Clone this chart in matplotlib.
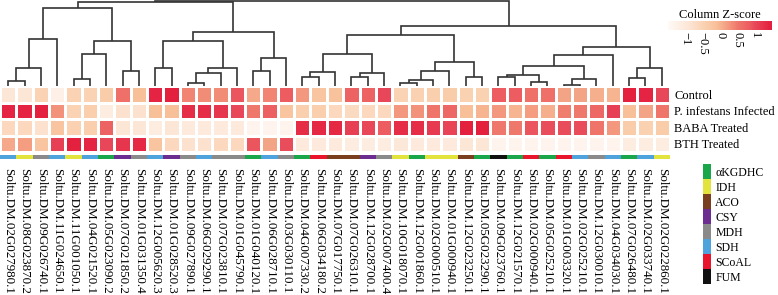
import numpy as np
import matplotlib
matplotlib.use("Agg")
import matplotlib.pyplot as plt
from matplotlib.colors import LinearSegmentedColormap, ListedColormap

plt.rcParams['font.family'] = ['Liberation Serif', 'DejaVu Serif']

genes = ["Soltu.DM.02G027980.1", "Soltu.DM.08G023870.2", "Soltu.DM.09G026740.1", "Soltu.DM.11G024650.1",
         "Soltu.DM.11G001050.1", "Soltu.DM.04G021520.1", "Soltu.DM.05G023090.2", "Soltu.DM.07G021850.2",
         "Soltu.DM.01G031350.4", "Soltu.DM.12G005620.3", "Soltu.DM.01G028520.3", "Soltu.DM.09G027890.1",
         "Soltu.DM.06G029290.1", "Soltu.DM.07G023810.1", "Soltu.DM.01G045790.1", "Soltu.DM.01G040120.1",
         "Soltu.DM.06G028710.1", "Soltu.DM.03G030110.1", "Soltu.DM.04G007330.2", "Soltu.DM.06G034180.2",
         "Soltu.DM.07G017750.1", "Soltu.DM.07G026310.1", "Soltu.DM.12G028700.1", "Soltu.DM.02G007400.4",
         "Soltu.DM.10G018070.1", "Soltu.DM.12G001860.1", "Soltu.DM.02G000510.1", "Soltu.DM.01G000940.1",
         "Soltu.DM.12G023250.1", "Soltu.DM.05G023290.1", "Soltu.DM.09G023760.1", "Soltu.DM.12G021570.1",
         "Soltu.DM.02G000940.1", "Soltu.DM.05G025210.1", "Soltu.DM.01G003320.1", "Soltu.DM.02G025210.1",
         "Soltu.DM.12G030010.1", "Soltu.DM.04G034030.1", "Soltu.DM.07G026480.1", "Soltu.DM.02G033740.1",
         "Soltu.DM.02G022860.1"]

conditions = ["Control", "P. infestans Infected", "BABA Treated", "BTH Treated"]

control = [-0.9, -0.9, -0.5, -1.2, -0.5, -0.5, -0.35, 0.6, -0.1, 1.4, 1.45, 0.4, 0.35, 0.35, 0.9,
           0.1, 0.4, 0.85, 0.25, -0.2, -0.15, 0.75, 0.75, 1.0, -0.5, -0.45, -0.4, -0.35, -0.45, -0.45,
           0.85, 0.85, 0.6, 0.6, 0.15, 0.15, 0.05, 0.0, 1.45, 1.4, 1.0]
infected = [1.4, 1.4, 1.45, 0.3, -0.5, -0.4, -1.1, -0.8, -0.8, -0.1, -0.1, 1.3, 1.3, 1.2, 1.0,
            0.5, 0.8, -0.2, -0.4, -0.4, -0.6, -0.65, -0.6, -0.6, 0.25, 0.3, 0.55, 0.7, -0.1, 0.0,
            0.25, 0.0, 0.2, 0.05, 0.45, 0.5, 0.7, 1.1, -0.1, 0.15, 0.55]
baba = [-0.6, -0.6, -0.8, -0.2, -0.45, -0.4, 0.75, -0.9, -0.9, -1.1, -0.9, -1.0, -1.0, -1.0, -1.0,
        -1.3, -1.3, -1.3, 1.3, 1.35, 1.35, 1.1, 1.0, 0.85, 1.3, 1.3, 1.15, 1.05, 1.45, 1.45,
        0.5, 0.5, 0.9, 0.95, 0.95, 0.95, 0.55, 0.25, -0.35, -0.45, -0.35]
bth = [0.1, 0.2, -0.2, 1.1, 1.45, 1.4, 1.0, 1.2, 1.35, -0.2, -0.6, -0.8, -0.8, -0.6, -0.6,
       0.9, 0.15, 0.95, -1.0, -1.0, -1.0, -1.1, -1.1, -1.1, -0.95, -1.0, -1.0, -1.0, -0.9, -0.9,
       -1.3, -1.3, -1.3, -1.3, -1.3, -1.3, -1.3, -1.3, -1.1, -1.1, -1.1]

families = ["SDH", "IDH", "MDH", "SDH", "IDH", "SDH", "αKGDHC", "CSY", "MDH", "SDH", "CSY", "MDH",
            "SDH", "MDH", "MDH", "αKGDHC", "SDH", "MDH", "αKGDHC", "SCoAL", "ACO", "ACO", "CSY", "MDH",
            "IDH", "αKGDHC", "IDH", "IDH", "ACO", "αKGDHC", "FUM", "αKGDHC", "SCoAL", "αKGDHC", "SCoAL",
            "SDH", "MDH", "SDH", "αKGDHC", "SDH", "IDH"]
family_names = ["αKGDHC", "IDH", "ACO", "CSY", "MDH", "SDH", "SCoAL", "FUM"]
family_colors = ["#1aa64a", "#e2e33c", "#7a3f1f", "#6b2d8f", "#8a8a8a", "#4ea3dc", "#e8152d", "#111111"]

# column dendrogram: (left, right, height), leaves are column indices
tree_a = (((0, 1, 5), 2, 18), 3, 47)
tree_b = (((4, 5, 7), 6, 32), (7, 8, 15), 45)
tree_c1 = ((9, 10, 18), (((11, 12, 3), 13, 13), 14, 18), 45)
tree_c = (tree_c1, ((15, 16, 15), 17, 28), 54)
tree_d1 = (((18, 19, 9), 20, 14), ((21, 22, 9), 23, 13), 32)
tree_d2 = ((((24, 25, 3), 26, 6), 27, 15), (28, 29, 9), 24)
tree_e1 = ((30, 31, 9), (32, 33, 4), 11)
tree_e2 = (tree_e1, ((34, 35, 1), 36, 7), 20)
tree_e = ((tree_e2, 37, 31), ((38, 39, 8), 40, 18), 39)
tree = (((tree_a, tree_b, 78), tree_c, 84.3), ((tree_d1, tree_d2, 51), tree_e, 60), 85.7)

W, H = 778, 295
fig = plt.figure(figsize=(W / 100, H / 100), dpi=100)


def box(x0, y0, x1, y1):
    return [x0 / W, 1 - y1 / H, (x1 - x0) / W, (y1 - y0) / H]


ax_dend = fig.add_axes(box(0, 0, 670, 86))
ax_heat = fig.add_axes(box(0, 86, 670, 152))
ax_strip = fig.add_axes(box(0, 154.5, 670, 158.5))
ax_cbar = fig.add_axes(box(667.5, 20.5, 772.5, 29.5))
ax_leg = fig.add_axes(box(703, 164, 711, 284))


def draw(node):
    if isinstance(node, int):
        return node + 0.5, 0
    xl, hl = draw(node[0])
    xr, hr = draw(node[1])
    h = node[2]
    ax_dend.plot([xl, xl, xr, xr], [hl, h, h, hr], color="#333333", lw=1.2,
                 solid_capstyle="butt", solid_joinstyle="miter")
    return (xl + xr) / 2, h


draw(tree)
ax_dend.set_xlim(0, len(genes))
ax_dend.set_ylim(0, 86.5)
ax_dend.axis("off")

zvals = [-1.5, -0.9, -0.45, -0.1, 0.25, 0.5, 0.85, 1.0, 1.45, 1.5]
zcols = ["#fffaf8", "#fce6d6", "#fad1b1", "#f8c099", "#f3987e", "#ef786c", "#ec5c60", "#e8485a",
         "#e4203f", "#e31b3e"]
cmap = LinearSegmentedColormap.from_list("z", [((v + 1.5) / 3, c) for v, c in zip(zvals, zcols)])

data = np.array([control, infected, baba, bth])
mesh = ax_heat.pcolormesh(data, cmap=cmap, vmin=-1.5, vmax=1.5, edgecolors="white", linewidth=1)
ax_heat.set_xlim(0, len(genes))
ax_heat.set_ylim(4, 0)
ax_heat.yaxis.tick_right()
ax_heat.set_yticks(np.arange(4) + 0.5, conditions, fontsize=9)
ax_heat.set_xticks([])
ax_heat.tick_params(length=0, pad=3)
for s in ax_heat.spines.values():
    s.set_visible(False)

fam_cmap = ListedColormap(family_colors)
fam_idx = [family_names.index(f) for f in families]
ax_strip.pcolormesh(np.array([fam_idx]), cmap=fam_cmap, vmin=-0.5, vmax=7.5)
ax_strip.set_xlim(0, len(genes))
ax_strip.set_xticks(np.arange(len(genes)) + 0.5, genes, rotation=270, fontsize=9.4)
ax_strip.set_yticks([])
ax_strip.tick_params(length=0, pad=6.5)
for s in ax_strip.spines.values():
    s.set_visible(False)

ax_leg.pcolormesh(np.arange(8).reshape(-1, 1), cmap=fam_cmap, vmin=-0.5, vmax=7.5)
ax_leg.set_ylim(8, 0)
ax_leg.yaxis.tick_right()
ax_leg.set_yticks(np.arange(8) + 0.5, family_names, fontsize=8.5)
ax_leg.set_xticks([])
ax_leg.tick_params(length=0, pad=3)
for s in ax_leg.spines.values():
    s.set_visible(False)

cb = fig.colorbar(mesh, cax=ax_cbar, orientation="horizontal")
cb.outline.set_visible(False)
cb.set_ticks([-1, -0.5, 0, 0.5, 1], labels=["\u22121", "\u22120.5", "0", "0.5", "1"])
ax_cbar.tick_params(length=0, pad=2, labelsize=9, labelrotation=270)
ax_cbar.set_title("Column Z-score", fontsize=9, pad=2)

fig.savefig("out.png", dpi=100)
